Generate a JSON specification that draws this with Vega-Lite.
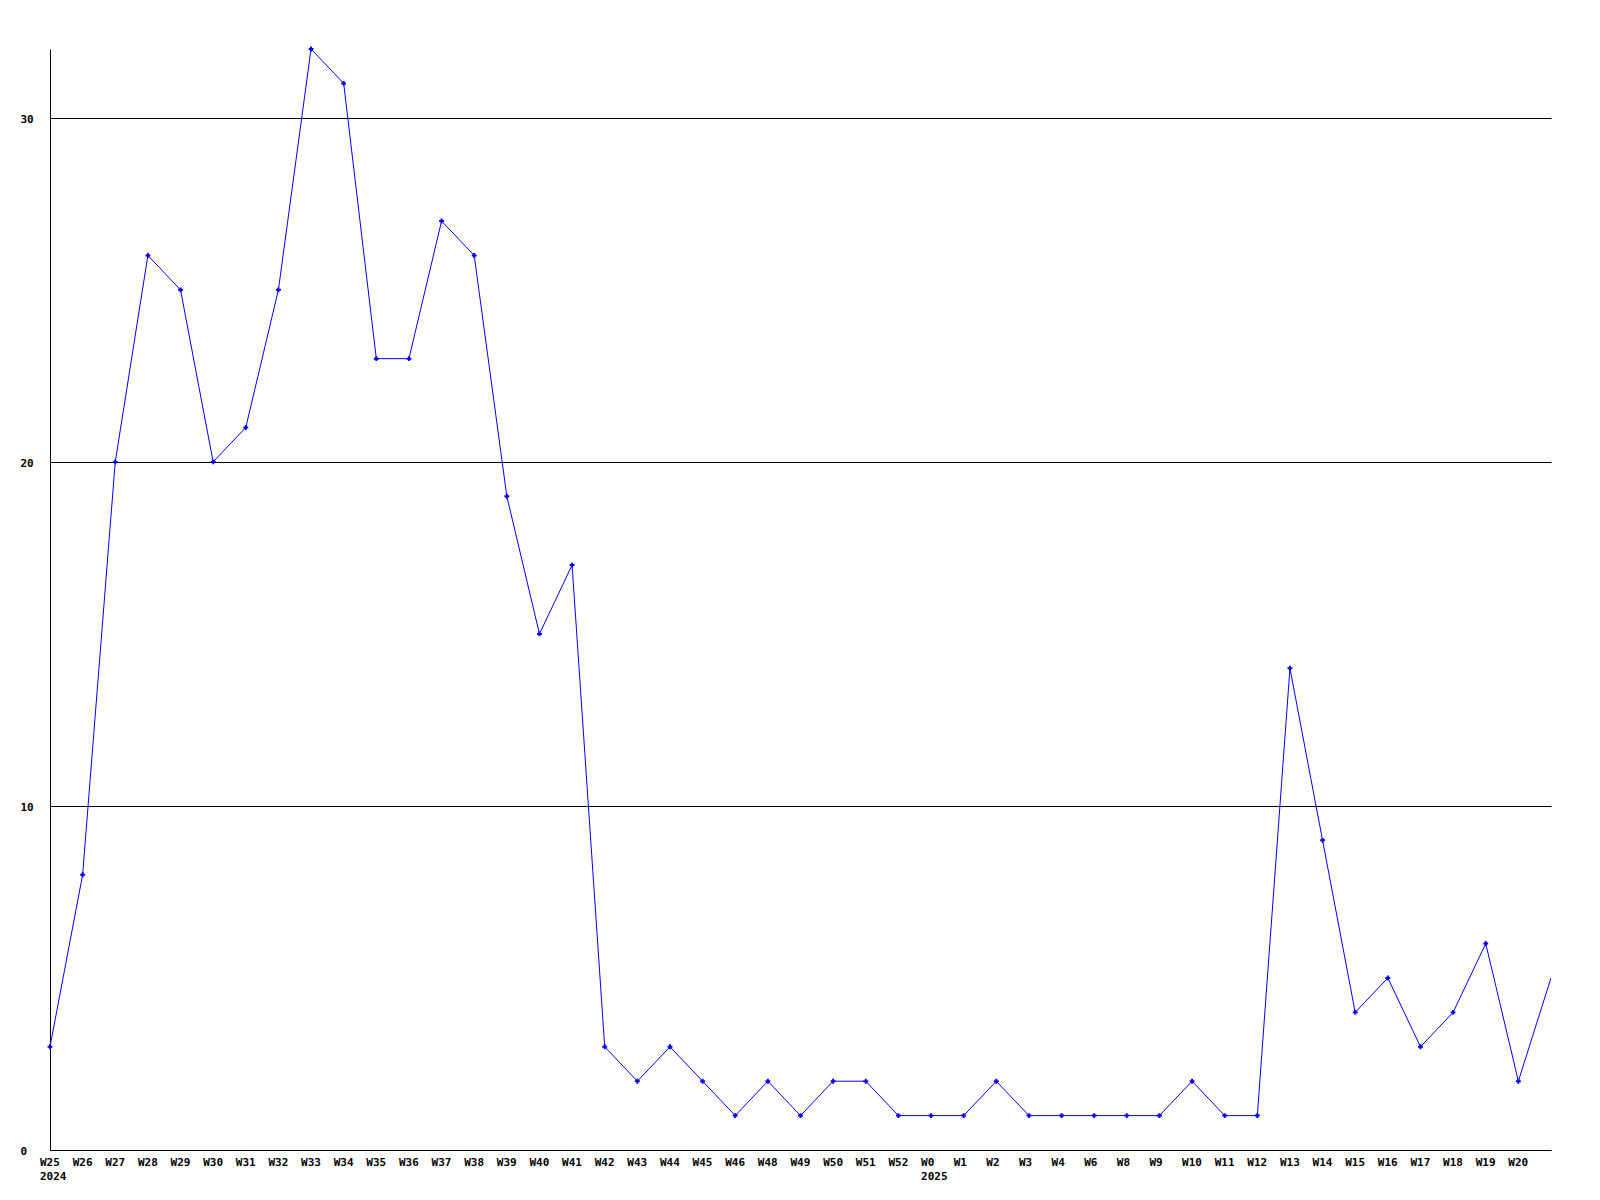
{
  "$schema": "https://vega.github.io/schema/vega-lite/v6.json",
  "width": 1501,
  "height": 1101,
  "autosize": {"type": "none"},
  "padding": {"left": 50, "top": 49, "right": 49, "bottom": 50},
  "background": "white",
  "config": {
    "view": {"stroke": null},
    "font": "DejaVu Sans Mono",
    "axis": {"labelFont": "DejaVu Sans Mono", "labelFontWeight": "bold", "labelFontSize": 11, "labelColor": "black"}
  },
  "data": {
    "values": [
      {"week": "W25", "value": 3},
      {"week": "W26", "value": 8},
      {"week": "W27", "value": 20},
      {"week": "W28", "value": 26},
      {"week": "W29", "value": 25},
      {"week": "W30", "value": 20},
      {"week": "W31", "value": 21},
      {"week": "W32", "value": 25},
      {"week": "W33", "value": 32},
      {"week": "W34", "value": 31},
      {"week": "W35", "value": 23},
      {"week": "W36", "value": 23},
      {"week": "W37", "value": 27},
      {"week": "W38", "value": 26},
      {"week": "W39", "value": 19},
      {"week": "W40", "value": 15},
      {"week": "W41", "value": 17},
      {"week": "W42", "value": 3},
      {"week": "W43", "value": 2},
      {"week": "W44", "value": 3},
      {"week": "W45", "value": 2},
      {"week": "W46", "value": 1},
      {"week": "W48", "value": 2},
      {"week": "W49", "value": 1},
      {"week": "W50", "value": 2},
      {"week": "W51", "value": 2},
      {"week": "W52", "value": 1},
      {"week": "W0", "value": 1},
      {"week": "W1", "value": 1},
      {"week": "W2", "value": 2},
      {"week": "W3", "value": 1},
      {"week": "W4", "value": 1},
      {"week": "W6", "value": 1},
      {"week": "W8", "value": 1},
      {"week": "W9", "value": 1},
      {"week": "W10", "value": 2},
      {"week": "W11", "value": 1},
      {"week": "W12", "value": 1},
      {"week": "W13", "value": 14},
      {"week": "W14", "value": 9},
      {"week": "W15", "value": 4},
      {"week": "W16", "value": 5},
      {"week": "W17", "value": 3},
      {"week": "W18", "value": 4},
      {"week": "W19", "value": 6},
      {"week": "W20", "value": 2},
      {"week": "W21", "value": 5}
    ]
  },
  "encoding": {
    "x": {
      "field": "week",
      "type": "ordinal",
      "sort": null,
      "scale": {"type": "point", "padding": 0},
      "axis": {
        "title": null,
        "labelAngle": 0,
        "labelAlign": "left",
        "labelOffset": -10.5,
        "labelPadding": 6,
        "ticks": false,
        "tickSize": 0,
        "domainColor": "black",
        "domainWidth": 1,
        "labelLineHeight": 14,
        "labelExpr": "datum.value == 'W21' ? '' : datum.value == 'W25' ? ['W25', '2024'] : datum.value == 'W0' ? ['W0', '2025'] : datum.value"
      }
    },
    "y": {
      "field": "value",
      "type": "quantitative",
      "scale": {"domain": [0, 32], "nice": false, "zero": true},
      "axis": {
        "title": null,
        "values": [0, 10, 20, 30],
        "grid": true,
        "gridColor": "black",
        "gridOpacity": 1,
        "gridWidth": 1,
        "ticks": false,
        "tickSize": 0,
        "labelAlign": "left",
        "labelPadding": 30,
        "labelOffset": 1.5,
        "domainColor": "black",
        "domainWidth": 1
      }
    }
  },
  "layer": [
    {"mark": {"type": "line", "color": "#0000ff", "strokeWidth": 1, "clip": true}},
    {
      "transform": [{"filter": "datum.week != 'W21'"}],
      "mark": {"type": "point", "shape": "cross", "filled": true, "color": "#0000ff", "size": 24, "opacity": 1}
    }
  ]
}
